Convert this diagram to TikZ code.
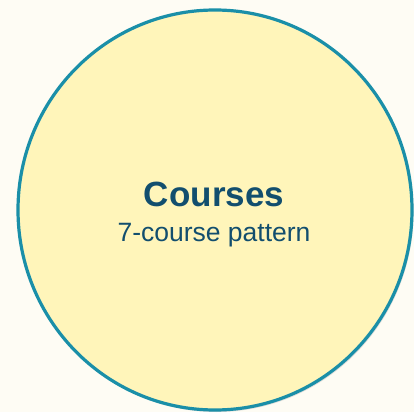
\documentclass[tikz,border=0pt]{standalone}
\usepackage{fontspec}
\setmainfont{Liberation Sans}
\usetikzlibrary{shapes.geometric}
\definecolor{bgc}{HTML}{FEFCF4}
\definecolor{fillc}{HTML}{FFF5BA}
\definecolor{edgec}{HTML}{1A8FA8}
\definecolor{textc}{HTML}{124E6E}
\begin{document}
\begin{tikzpicture}[x=1pt,y=1pt,
  bubble/.style={ellipse,draw=edgec,line width=3.2pt,fill=fillc,minimum width=394pt,minimum height=400pt,inner sep=0pt}]
\fill[bgc] (0,0) rectangle (414,412);
\useasboundingbox (0,0) rectangle (414,412);
\fill[black!25,opacity=0.5] (216.5,200) ellipse (197 and 200);
\node[bubble] (c) at (215,202) {};
\node[text=textc,font=\fontsize{35}{40}\selectfont\bfseries,anchor=base] (t1) at (214,205) {Courses};
\node[text=textc,font=\fontsize{26.5}{30}\selectfont,anchor=base] (t2) at (214,170.5) {7-course pattern};
\end{tikzpicture}
\end{document}
